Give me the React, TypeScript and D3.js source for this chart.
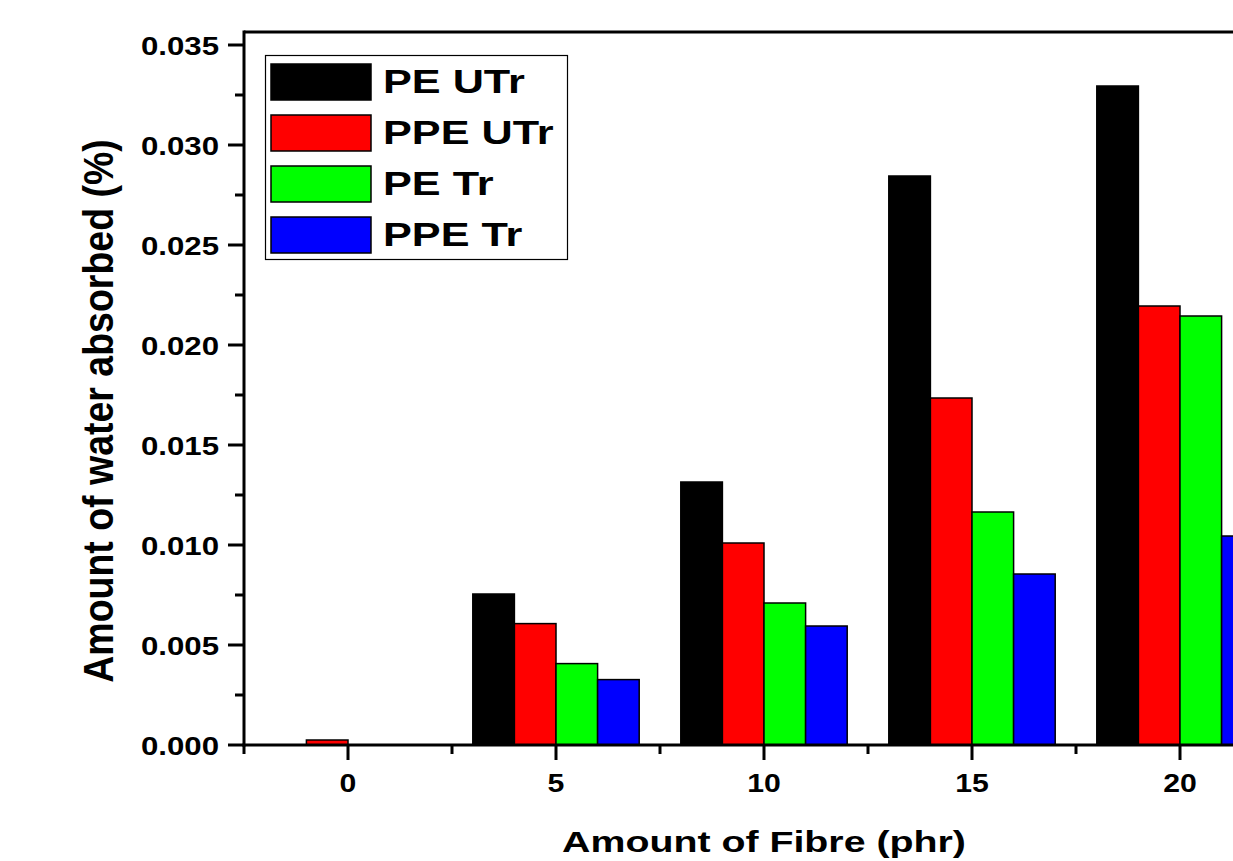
import React from "react";
import * as d3 from "d3";

const categories = [0, 5, 10, 15, 20];
const seriesNames = ["PE UTr", "PPE UTr", "PE Tr", "PPE Tr"];
const seriesColors = ["#000000", "#ff0000", "#00ff00", "#0000ff"];
const peUTr = [0, 0.00755, 0.01315, 0.02845, 0.03295];
const ppeUTr = [0.00025, 0.00607, 0.0101, 0.01735, 0.02195];
const peTr = [0, 0.00407, 0.0071, 0.01165, 0.02145];
const ppeTr = [0, 0.00327, 0.00595, 0.00855, 0.01045];
const yTicks = [0, 0.005, 0.01, 0.015, 0.02, 0.025, 0.03, 0.035];
const yTitle = "Amount of water absorbed (%)";
const xTitle = "Amount of Fibre (phr)";

const W = 1233;
const H = 861;
const FONT = "'Liberation Sans', Arial, Helvetica, sans-serif";

export default function App() {
  const series = [peUTr, ppeUTr, peTr, ppeTr];
  const x = d3.scaleLinear().domain([-2.5, 22.5]).range([244, 1284]);
  const y = d3.scaleLinear().domain([0, 0.03565]).range([745, 32]);
  const fmt = d3.format(".3f");
  const yMinor = yTicks.slice(0, -1).map((t) => t + 0.0025);
  const xMinor = [-2.5, 2.5, 7.5, 12.5, 17.5, 22.5];
  const left = x(-2.5);
  const right = x(22.5);
  const top = y(0.03565);
  const bottom = y(0);

  return (
    <svg
      width={W}
      height={H}
      style={{ position: "absolute", left: 0, top: 0, background: "#fff" }}
      fontFamily={FONT}
    >
      <rect x={0} y={0} width={W} height={H} fill="#fff" />
      {/* bars */}
      {categories.map((c, ci) =>
        series.map((s, si) => {
          const v = s[ci];
          if (v <= 0) return null;
          const x0 = x(c - 2 + si);
          const x1 = x(c - 1 + si);
          return (
            <rect
              key={`${ci}-${si}`}
              x={x0}
              y={y(v)}
              width={x1 - x0}
              height={y(0) - y(v)}
              fill={seriesColors[si]}
              stroke="#000"
              strokeWidth={1.5}
            />
          );
        })
      )}
      {/* frame */}
      <line x1={left} x2={right} y1={top} y2={top} stroke="#000" strokeWidth={3} />
      <line x1={left} x2={left} y1={top - 1.5} y2={bottom + 1.5} stroke="#000" strokeWidth={3} />
      <line x1={left - 1.5} x2={right} y1={bottom} y2={bottom} stroke="#000" strokeWidth={3} />
      {/* y ticks */}
      {yTicks.map((t) => (
        <g key={`yt${t}`}>
          <line x1={left - 16} x2={left} y1={y(t)} y2={y(t)} stroke="#000" strokeWidth={3} />
          <text
            transform={`translate(219, ${y(t) + 9.5}) scale(1.2, 1)`}
            textAnchor="end"
            fontSize={26}
            fontWeight="bold"
          >
            {fmt(t)}
          </text>
        </g>
      ))}
      {yMinor.map((t) => (
        <line key={`ym${t}`} x1={left - 9} x2={left} y1={y(t)} y2={y(t)} stroke="#000" strokeWidth={3} />
      ))}
      {/* x ticks */}
      {categories.map((c) => (
        <g key={`xt${c}`}>
          <line x1={x(c)} x2={x(c)} y1={bottom} y2={bottom + 15} stroke="#000" strokeWidth={3} />
          <text
            transform={`translate(${x(c)}, 792) scale(1.14, 1)`}
            textAnchor="middle"
            fontSize={26.5}
            fontWeight="bold"
          >
            {c}
          </text>
        </g>
      ))}
      {xMinor.map((t) => (
        <line key={`xm${t}`} x1={x(t)} x2={x(t)} y1={bottom} y2={bottom + 9} stroke="#000" strokeWidth={3} />
      ))}
      {/* axis titles */}
      <text
        transform={`translate(764, 852) scale(1.31, 1)`}
        textAnchor="middle"
        fontSize={30}
        fontWeight="bold"
      >
        {xTitle}
      </text>
      <text
        transform={`translate(113, 411) scale(1.12, 1) rotate(-90)`}
        textAnchor="middle"
        fontSize={37.5}
        fontWeight="bold"
      >
        {yTitle}
      </text>
      {/* legend */}
      <rect x={265.5} y={55.5} width={302} height={204} fill="#fff" stroke="#000" strokeWidth={1.2} />
      {seriesNames.map((n, i) => (
        <g key={n}>
          <rect
            x={271}
            y={64 + i * 51}
            width={100}
            height={36}
            fill={seriesColors[i]}
            stroke="#000"
            strokeWidth={1.5}
          />
          <text
            transform={`translate(383, ${93 + i * 51}) scale(1.33, 1)`}
            fontSize={32.5}
            fontWeight="bold"
          >
            {n}
          </text>
        </g>
      ))}
    </svg>
  );
}
